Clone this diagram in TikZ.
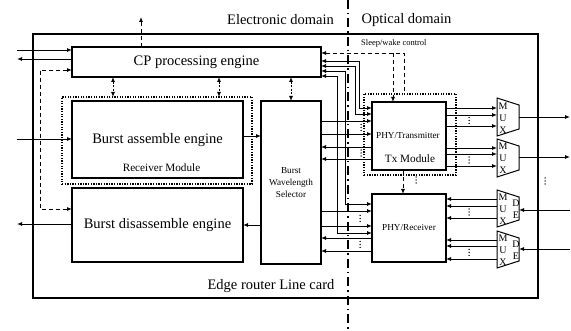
\documentclass[tikz,border=0pt]{standalone}
\usepackage{fontspec}
\setmainfont{Liberation Serif}
\usetikzlibrary{arrows.meta,calc}
\begin{document}
\begin{tikzpicture}[x=1pt,y=-1pt,
  box/.style={draw,line width=1.8pt,inner sep=0pt,outer sep=0pt},
  ghost/.style={inner sep=0pt,outer sep=0pt},
  dotbox/.style={draw,line width=1.4pt,dash pattern=on 1.3pt off 1.3pt,inner sep=0pt,outer sep=0pt},
  conn/.style={line width=0.9pt},
  arr/.style={conn,-{Latex[length=5pt,width=4pt]}},
  rarr/.style={conn,{Latex[length=5pt,width=4pt]}-},
  barr/.style={conn,{Latex[length=5pt,width=4pt]}-{Latex[length=5pt,width=4pt]}},
  dsh/.style={dash pattern=on 4pt off 3pt},
  fdsh/.style={dash pattern=on 2pt off 1.5pt},
  dashdot/.style={line width=1.3pt,dash pattern=on 9pt off 4pt on 1.5pt off 4pt},
  txtbig/.style={font=\fontsize{14.5}{17}\selectfont,inner sep=0pt},
  txtmid/.style={font=\fontsize{11.2}{13}\selectfont,inner sep=0pt},
  txtsm/.style={font=\fontsize{9.2}{11}\selectfont,inner sep=0pt},
  txtxs/.style={font=\fontsize{8.5}{10}\selectfont,inner sep=0pt},
  lett/.style={font=\fontsize{10}{12}\selectfont,inner sep=0pt},
  muxline/.style={line width=1pt},
  vdts/.pic={\foreach \k in {-3,0,3}{\fill (0,\k) circle[radius=0.75pt];}}
]
\fill[white] (0,0) rectangle (571,331);
\useasboundingbox (0,0) rectangle (571,331);

% outer card
\node[box,minimum width=505pt,minimum height=264pt] (card) at (285.5,166) {};
\node[txtbig,anchor=base] (cardlbl) at (271,290) {Edge router Line card};

% domain divider
\coordinate (dtop) at (348,0);
\coordinate (dbot) at (348,331);
\draw[dashdot] (dtop) -- (dbot);
\node[txtbig,anchor=base] (elec) at (280.5,25) {Electronic domain};
\node[txtbig,anchor=base] (opt) at (406.5,24) {Optical domain};

% boxes
\node[dotbox,minimum width=190pt,minimum height=87pt] (recv) at (157,140.5) {};
\node[box,minimum width=249pt,minimum height=30pt,txtbig] (cp) at (196.5,62) {CP processing engine};
\node[box,minimum width=171pt,minimum height=77pt] (bae) at (157.5,139.5) {};
\node[txtbig] (baet) at (157.5,140) {Burst assemble engine};
\node[txtmid] (recvt) at (161.5,168) {Receiver Module};
\node[box,minimum width=171pt,minimum height=74pt,txtbig] (bde) at (157.5,225) {Burst disassemble engine};
\node[box,minimum width=60pt,minimum height=163pt] (bws) at (291,182.5) {};
\node[txtsm,align=center] (bwst) at (291,182.5) {Burst\\[0.6pt]Wavelength\\[0.6pt]Selector};
\node[dotbox,minimum width=92pt,minimum height=81pt] (txm) at (410,134.5) {};
\node[box,minimum width=74pt,minimum height=68pt] (tx) at (409,136) {};
\node[txtsm] (txt) at (408,136) {PHY/Transmitter};
\node[txtmid] (txmt) at (410,159) {Tx Module};
\node[box,minimum width=74pt,minimum height=68pt,txtsm] (rx) at (409,228) {PHY/Receiver};

% mux / demux
\node[ghost,minimum width=22pt,minimum height=38pt] (mux1) at (508,117) {};
\node[ghost,minimum width=22pt,minimum height=38pt] (mux2) at (508,158) {};
\node[ghost,minimum width=22pt,minimum height=37pt] (dmx1) at (508,208.5) {};
\node[ghost,minimum width=22pt,minimum height=37pt] (dmx2) at (508,249.5) {};
\foreach \m in {mux1,mux2,dmx1,dmx2}{
  \draw[muxline] (\m.north west) -- ([yshift=-7pt]\m.north east) -- ([yshift=7pt]\m.south east) -- (\m.south west) -- cycle;
}
\node[lett] (m1a) at (503,106) {M};
\node[lett] (m1b) at (503,118) {U};
\node[lett] (m1c) at (503,130) {X};
\node[lett] (m2a) at (503,146) {M};
\node[lett] (m2b) at (503,158) {U};
\node[lett] (m2c) at (503,170) {X};
\node[lett] (d1a) at (503,197) {M};
\node[lett] (d1b) at (503,209) {U};
\node[lett] (d1c) at (503,221) {X};
\node[lett] (d1d) at (516,203) {D};
\node[lett] (d1e) at (516,215) {E};
\node[lett] (d2a) at (503,238) {M};
\node[lett] (d2b) at (503,250) {U};
\node[lett] (d2c) at (503,262) {X};
\node[lett] (d2d) at (516,244) {D};
\node[lett] (d2e) at (516,256) {E};

% left side connectors
\coordinate (inA) at (17,50);
\coordinate (outA) at (17,59);
\coordinate (inB) at (17,139);
\coordinate (outB) at (17,224);
\coordinate (upC) at (141,17);
\coordinate (ctl) at (40,140);
\draw[arr] (inA) -- (cp.west |- inA);
\draw[arr] (cp.west |- outA) -- (outA);
\draw[arr] (inB) -- (bae.west |- inB);
\draw[arr] (bde.west |- outB) -- (outB);
\draw[barr,dsh] (cp.west |- 0,70) -| (ctl) |- (bde.west |- 0,209);
\draw[arr,dsh] (cp.north -| upC) -- (upC);

% CP to receiver module / BWS
\draw[barr,fdsh] (cp.south -| 113,0) -- (recv.north -| 113,0);
\draw[barr,fdsh] (cp.south -| 219,0) -- (recv.north -| 219,0);
\draw[barr,fdsh] (cp.south -| bws.north) -- (bws.north);

% assemble / disassemble with BWS
\draw[arr] (bae.east |- 0,136) -- (bws.west |- 0,136);
\draw[arr] (bws.west |- 0,225) -- (bde.east |- 0,225);

% sleep/wake control
\node[txtxs,anchor=west] (swl) at (361,43) {Sleep/wake control};
\coordinate (swA) at (404,53);
\coordinate (swB) at (393,53);
\draw[rarr,dsh] (cp.east |- swA) -- (swA) -- (txm.north -| swA);
\draw[arr,dsh] (swB) -- (tx.north -| swB);

% CP control lines to Tx / Rx
\draw[barr] (cp.east |- 0,61) -| (359,108) -- (tx.west |- 0,108);
\draw[barr] (cp.east |- 0,66) -| (355,114) -- (tx.west |- 0,114);
\draw[barr] (cp.east |- 0,71) -| (345,204) -- (rx.west |- 0,204);
\draw[barr] (cp.east |- 0,76) -| (337,233) -- (rx.west |- 0,233);

% BWS <-> Tx
\draw[arr] (bws.east |- 0,121) -- (tx.west |- 0,121);
\draw[arr] (bws.east |- 0,134) -- (tx.west |- 0,134);
\pic at (361,127.5) {vdts};
\draw[arr] (tx.west |- 0,147) -- (bws.east |- 0,147);
\draw[arr] (tx.west |- 0,159) -- (bws.east |- 0,159);
\pic at (361,153) {vdts};

% BWS <-> Rx
\draw[arr] (bws.east |- 0,211) -- (rx.west |- 0,211);
\draw[arr] (bws.east |- 0,226) -- (rx.west |- 0,226);
\pic at (360,218.5) {vdts};
\draw[arr] (rx.west |- 0,238) -- (bws.east |- 0,238);
\draw[arr] (rx.west |- 0,251) -- (bws.east |- 0,251);
\pic at (360,244.5) {vdts};

% Tx -> Rx
\draw[arr,dsh] (tx.south -| 403,0) -- (rx.north -| 403,0);
\pic at (416,180) {vdts};

% Tx -> MUX
\foreach \yy in {108,115,126}{\draw[arr] (tx.east |- 0,\yy) -- (mux1.west |- 0,\yy);}
\pic at (469,120.5) {vdts};
\foreach \yy in {148,154,166}{\draw[arr] (tx.east |- 0,\yy) -- (mux2.west |- 0,\yy);}
\pic at (469,160) {vdts};

% DEMUX -> Rx
\foreach \yy in {199,206,218}{\draw[arr] (dmx1.west |- 0,\yy) -- (rx.east |- 0,\yy);}
\pic at (469,212) {vdts};
\foreach \yy in {240,246,259}{\draw[arr] (dmx2.west |- 0,\yy) -- (rx.east |- 0,\yy);}
\pic at (469,252.5) {vdts};

% optical ports
\coordinate (o1) at (570,117);
\coordinate (o2) at (570,157);
\coordinate (i1) at (570,210);
\coordinate (i2) at (570,249);
\draw[arr] (mux1.east |- o1) -- (o1);
\draw[arr] (mux2.east |- o2) -- (o2);
\draw[arr] (i1) -- (dmx1.east |- i1);
\draw[arr] (i2) -- (dmx2.east |- i2);
\pic at (545,181) {vdts};
\end{tikzpicture}
\end{document}
